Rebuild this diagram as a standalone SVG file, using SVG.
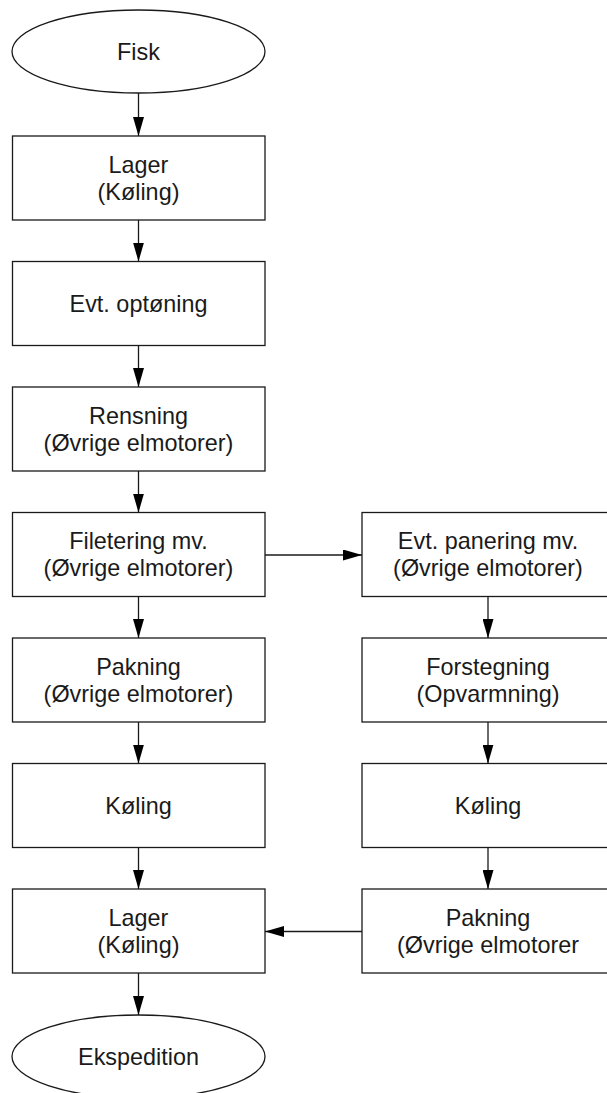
<svg xmlns="http://www.w3.org/2000/svg" width="607" height="1093" viewBox="0 0 607 1093">
  <style>
    .shape { fill: #ffffff; stroke: #1a1a1a; stroke-width: 1.3; }
    .label { font-family: "Liberation Sans", Arial, sans-serif; font-size: 23.4px; fill: #1a1a1a; text-anchor: middle; dominant-baseline: central; }
    .edge { fill: none; stroke: #1a1a1a; stroke-width: 1.3; marker-end: url(#arrow); }
  </style>
  <defs>
    <marker id="arrow" viewBox="0 0 19 11" refX="19" refY="5.5" markerWidth="19" markerHeight="11" markerUnits="userSpaceOnUse" orient="auto">
      <path d="M0,0 L19,5.5 L0,11 Z" fill="#000000"/>
    </marker>
  </defs>
  <rect width="607" height="1093" fill="#ffffff"/>

  <!-- connectors -->
  <g id="connectors">
    <line class="edge" x1="138.5" y1="93" x2="138.5" y2="136"/>
    <line class="edge" x1="138.5" y1="220" x2="138.5" y2="261.5"/>
    <line class="edge" x1="138.5" y1="345.5" x2="138.5" y2="387"/>
    <line class="edge" x1="138.5" y1="471" x2="138.5" y2="512.5"/>
    <line class="edge" x1="138.5" y1="596.5" x2="138.5" y2="638"/>
    <line class="edge" x1="138.5" y1="722" x2="138.5" y2="763.5"/>
    <line class="edge" x1="138.5" y1="847.5" x2="138.5" y2="889"/>
    <line class="edge" x1="138.5" y1="973" x2="138.5" y2="1015"/>
    <line class="edge" x1="265" y1="555" x2="362" y2="555"/>
    <line class="edge" x1="488" y1="596.5" x2="488" y2="638"/>
    <line class="edge" x1="488" y1="722" x2="488" y2="763.5"/>
    <line class="edge" x1="488" y1="847.5" x2="488" y2="889"/>
    <line class="edge" x1="362" y1="931.5" x2="265" y2="931.5"/>
  </g>

  <!-- left column -->
  <g id="fisk">
    <ellipse class="shape" cx="138.5" cy="51.5" rx="126.5" ry="41.5"/>
    <text class="label" x="138.5" y="51.5">Fisk</text>
  </g>
  <g id="lager1">
    <rect class="shape" x="12.5" y="136" width="252.5" height="84"/>
    <text class="label" x="138.5" y="164.5">Lager</text>
    <text class="label" x="138.5" y="191.5">(Køling)</text>
  </g>
  <g id="optoening">
    <rect class="shape" x="12.5" y="261.5" width="252.5" height="84"/>
    <text class="label" x="138.5" y="303.5">Evt. optøning</text>
  </g>
  <g id="rensning">
    <rect class="shape" x="12.5" y="387" width="252.5" height="84"/>
    <text class="label" x="138.5" y="415.5">Rensning</text>
    <text class="label" x="138.5" y="442.5">(Øvrige elmotorer)</text>
  </g>
  <g id="filetering">
    <rect class="shape" x="12.5" y="512.5" width="252.5" height="84"/>
    <text class="label" x="138.5" y="541">Filetering mv.</text>
    <text class="label" x="138.5" y="568">(Øvrige elmotorer)</text>
  </g>
  <g id="pakning1">
    <rect class="shape" x="12.5" y="638" width="252.5" height="84"/>
    <text class="label" x="138.5" y="666.5">Pakning</text>
    <text class="label" x="138.5" y="693.5">(Øvrige elmotorer)</text>
  </g>
  <g id="koeling1">
    <rect class="shape" x="12.5" y="763.5" width="252.5" height="84"/>
    <text class="label" x="138.5" y="805.5">Køling</text>
  </g>
  <g id="lager2">
    <rect class="shape" x="12.5" y="889" width="252.5" height="84"/>
    <text class="label" x="138.5" y="917.5">Lager</text>
    <text class="label" x="138.5" y="944.5">(Køling)</text>
  </g>
  <g id="ekspedition">
    <ellipse class="shape" cx="138.5" cy="1056.5" rx="126.5" ry="41.5"/>
    <text class="label" x="138.5" y="1056.5">Ekspedition</text>
  </g>

  <!-- right column -->
  <g id="panering">
    <rect class="shape" x="362" y="512.5" width="253" height="84"/>
    <text class="label" x="488" y="541">Evt. panering mv.</text>
    <text class="label" x="488" y="568">(Øvrige elmotorer)</text>
  </g>
  <g id="forstegning">
    <rect class="shape" x="362" y="638" width="253" height="84"/>
    <text class="label" x="488" y="666.5">Forstegning</text>
    <text class="label" x="488" y="693.5">(Opvarmning)</text>
  </g>
  <g id="koeling2">
    <rect class="shape" x="362" y="763.5" width="253" height="84"/>
    <text class="label" x="488" y="805.5">Køling</text>
  </g>
  <g id="pakning2">
    <rect class="shape" x="362" y="889" width="253" height="84"/>
    <text class="label" x="488" y="917.5">Pakning</text>
    <text class="label" x="488" y="944.5">(Øvrige elmotorer</text>
  </g>
</svg>
